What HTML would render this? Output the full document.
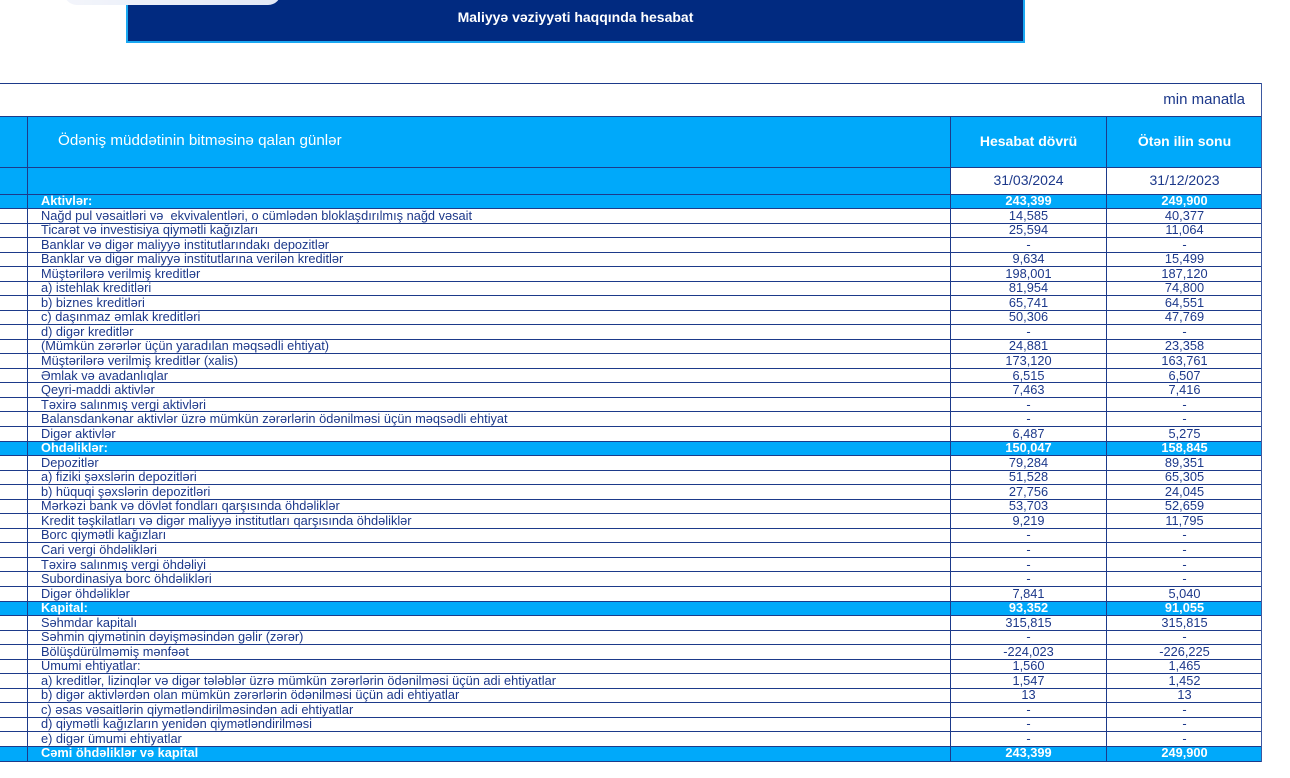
<!DOCTYPE html>
<html>
<head>
<meta charset="utf-8">
<style>
html,body{margin:0;padding:0;background:#fff;}
body{width:1290px;height:778px;position:relative;overflow:hidden;font-family:"Liberation Sans",sans-serif;color:#1c388a;}
.abs{position:absolute;}
.bar{left:126px;top:-2px;width:895px;height:43px;background:#012a80;border:2px solid #1aa8f2;border-top:none;}
.bar span{position:absolute;left:0;right:0;top:11px;text-align:center;color:#fff;font-size:14px;font-weight:bold;}
.pill{left:64px;top:-24px;width:217px;height:29px;border-radius:13px;background:linear-gradient(90deg,#f3f5fb,#e1e8f6);}
.hl{position:absolute;height:1px;background:#1d3a8a;left:0;width:1262px;}
.vl{position:absolute;width:1px;background:#1d3a8a;}
.row{position:absolute;left:0;width:1262px;height:15px;font-size:12.8px;line-height:15px;}
.row .l{position:absolute;left:41px;top:-1px;white-space:pre;}
.row .a{position:absolute;left:951px;width:155px;top:-1px;text-align:center;}
.row .b{position:absolute;left:1107px;width:155px;top:-1px;text-align:center;}
.sec{background:#00a9fa;color:#fff;font-weight:bold;}
</style>
</head>
<body>
<div class="abs bar"><span>Maliyyə vəziyyəti haqqında hesabat</span></div>
<div class="abs pill"></div>

<!-- table top -->
<div class="hl" style="top:83px;"></div>
<div class="abs" style="left:1100px;top:91px;font-size:15px;width:145px;text-align:right;color:#1c388a;">min manatla</div>

<!-- header blue -->
<div class="abs" style="left:0;top:116px;width:1262px;height:78px;background:#00a9fa;"></div>
<div class="abs" style="left:951px;top:168px;width:155px;height:26px;background:#fff;"></div>
<div class="abs" style="left:1107px;top:168px;width:155px;height:26px;background:#fff;"></div>
<div class="abs" style="left:58px;top:132px;font-size:15.2px;color:#fff;">Ödəniş müddətinin bitməsinə qalan günlər</div>
<div class="abs" style="left:951px;top:133px;width:155px;text-align:center;font-size:14px;color:#fff;font-weight:bold;">Hesabat dövrü</div>
<div class="abs" style="left:1107px;top:133px;width:155px;text-align:center;font-size:14px;color:#fff;font-weight:bold;">Ötən ilin sonu</div>
<div class="abs" style="left:951px;top:172px;width:155px;text-align:center;font-size:14px;color:#1c388a;">31/03/2024</div>
<div class="abs" style="left:1107px;top:172px;width:155px;text-align:center;font-size:14px;color:#1c388a;">31/12/2023</div>
<div class="hl" style="top:116px;"></div>
<div class="hl" style="top:167px;"></div>

<!-- rows -->
<div class="row sec" style="top:194px;"><span class="l">Aktivlər:</span><span class="a">243,399</span><span class="b">249,900</span></div>
<div class="row" style="top:208.5px;"><span class="l">Nağd pul vəsaitləri və  ekvivalentləri, o cümlədən bloklaşdırılmış nağd vəsait</span><span class="a">14,585</span><span class="b">40,377</span></div>
<div class="row" style="top:223.1px;"><span class="l">Ticarət və investisiya qiymətli kağızları</span><span class="a">25,594</span><span class="b">11,064</span></div>
<div class="row" style="top:237.6px;"><span class="l">Banklar və digər maliyyə institutlarındakı depozitlər</span><span class="a">-</span><span class="b">-</span></div>
<div class="row" style="top:252.2px;"><span class="l">Banklar və digər maliyyə institutlarına verilən kreditlər</span><span class="a">9,634</span><span class="b">15,499</span></div>
<div class="row" style="top:266.7px;"><span class="l">Müştərilərə verilmiş kreditlər</span><span class="a">198,001</span><span class="b">187,120</span></div>
<div class="row" style="top:281.2px;"><span class="l">a) istehlak kreditləri</span><span class="a">81,954</span><span class="b">74,800</span></div>
<div class="row" style="top:295.8px;"><span class="l">b) biznes kreditləri</span><span class="a">65,741</span><span class="b">64,551</span></div>
<div class="row" style="top:310.3px;"><span class="l">c) daşınmaz əmlak kreditləri</span><span class="a">50,306</span><span class="b">47,769</span></div>
<div class="row" style="top:324.8px;"><span class="l">d) digər kreditlər</span><span class="a">-</span><span class="b">-</span></div>
<div class="row" style="top:339.4px;"><span class="l">(Mümkün zərərlər üçün yaradılan məqsədli ehtiyat)</span><span class="a">24,881</span><span class="b">23,358</span></div>
<div class="row" style="top:353.9px;"><span class="l">Müştərilərə verilmiş kreditlər (xalis)</span><span class="a">173,120</span><span class="b">163,761</span></div>
<div class="row" style="top:368.5px;"><span class="l">Əmlak və avadanlıqlar</span><span class="a">6,515</span><span class="b">6,507</span></div>
<div class="row" style="top:383.0px;"><span class="l">Qeyri-maddi aktivlər</span><span class="a">7,463</span><span class="b">7,416</span></div>
<div class="row" style="top:397.5px;"><span class="l">Təxirə salınmış vergi aktivləri</span><span class="a">-</span><span class="b">-</span></div>
<div class="row" style="top:412.1px;"><span class="l">Balansdankənar aktivlər üzrə mümkün zərərlərin ödənilməsi üçün məqsədli ehtiyat</span><span class="a">-</span><span class="b">-</span></div>
<div class="row" style="top:426.6px;"><span class="l">Digər aktivlər</span><span class="a">6,487</span><span class="b">5,275</span></div>
<div class="row sec" style="top:441.1px;"><span class="l">Öhdəliklər:</span><span class="a">150,047</span><span class="b">158,845</span></div>
<div class="row" style="top:455.7px;"><span class="l">Depozitlər</span><span class="a">79,284</span><span class="b">89,351</span></div>
<div class="row" style="top:470.2px;"><span class="l">a) fiziki şəxslərin depozitləri</span><span class="a">51,528</span><span class="b">65,305</span></div>
<div class="row" style="top:484.8px;"><span class="l">b) hüquqi şəxslərin depozitləri</span><span class="a">27,756</span><span class="b">24,045</span></div>
<div class="row" style="top:499.3px;"><span class="l">Mərkəzi bank və dövlət fondları qarşısında öhdəliklər</span><span class="a">53,703</span><span class="b">52,659</span></div>
<div class="row" style="top:513.8px;"><span class="l">Kredit təşkilatları və digər maliyyə institutları qarşısında öhdəliklər</span><span class="a">9,219</span><span class="b">11,795</span></div>
<div class="row" style="top:528.4px;"><span class="l">Borc qiymətli kağızları</span><span class="a">-</span><span class="b">-</span></div>
<div class="row" style="top:542.9px;"><span class="l">Cari vergi öhdəlikləri</span><span class="a">-</span><span class="b">-</span></div>
<div class="row" style="top:557.5px;"><span class="l">Təxirə salınmış vergi öhdəliyi</span><span class="a">-</span><span class="b">-</span></div>
<div class="row" style="top:572.0px;"><span class="l">Subordinasiya borc öhdəlikləri</span><span class="a">-</span><span class="b">-</span></div>
<div class="row" style="top:586.5px;"><span class="l">Digər öhdəliklər</span><span class="a">7,841</span><span class="b">5,040</span></div>
<div class="row sec" style="top:601.1px;"><span class="l">Kapital:</span><span class="a">93,352</span><span class="b">91,055</span></div>
<div class="row" style="top:615.6px;"><span class="l">Səhmdar kapitalı</span><span class="a">315,815</span><span class="b">315,815</span></div>
<div class="row" style="top:630.1px;"><span class="l">Səhmin qiymətinin dəyişməsindən gəlir (zərər)</span><span class="a">-</span><span class="b">-</span></div>
<div class="row" style="top:644.7px;"><span class="l">Bölüşdürülməmiş mənfəət</span><span class="a">-224,023</span><span class="b">-226,225</span></div>
<div class="row" style="top:659.2px;"><span class="l">Ümumi ehtiyatlar:</span><span class="a">1,560</span><span class="b">1,465</span></div>
<div class="row" style="top:673.8px;"><span class="l">a) kreditlər, lizinqlər və digər tələblər üzrə mümkün zərərlərin ödənilməsi üçün adi ehtiyatlar</span><span class="a">1,547</span><span class="b">1,452</span></div>
<div class="row" style="top:688.3px;"><span class="l">b) digər aktivlərdən olan mümkün zərərlərin ödənilməsi üçün adi ehtiyatlar</span><span class="a">13</span><span class="b">13</span></div>
<div class="row" style="top:702.8px;"><span class="l">c) əsas vəsaitlərin qiymətləndirilməsindən adi ehtiyatlar</span><span class="a">-</span><span class="b">-</span></div>
<div class="row" style="top:717.4px;"><span class="l">d) qiymətli kağızların yenidən qiymətləndirilməsi</span><span class="a">-</span><span class="b">-</span></div>
<div class="row" style="top:731.9px;"><span class="l">e) digər ümumi ehtiyatlar</span><span class="a">-</span><span class="b">-</span></div>
<div class="row sec" style="top:746.4px;"><span class="l">Cəmi öhdəliklər və kapital</span><span class="a">243,399</span><span class="b">249,900</span></div>

<!-- horizontal row lines -->
<div class="hl" style="top:194px;"></div>
<div class="hl" style="top:208px;"></div>
<div class="hl" style="top:223px;"></div>
<div class="hl" style="top:237px;"></div>
<div class="hl" style="top:252px;"></div>
<div class="hl" style="top:266px;"></div>
<div class="hl" style="top:281px;"></div>
<div class="hl" style="top:295px;"></div>
<div class="hl" style="top:310px;"></div>
<div class="hl" style="top:324px;"></div>
<div class="hl" style="top:339px;"></div>
<div class="hl" style="top:353px;"></div>
<div class="hl" style="top:368px;"></div>
<div class="hl" style="top:382px;"></div>
<div class="hl" style="top:397px;"></div>
<div class="hl" style="top:411px;"></div>
<div class="hl" style="top:426px;"></div>
<div class="hl" style="top:441px;"></div>
<div class="hl" style="top:455px;"></div>
<div class="hl" style="top:470px;"></div>
<div class="hl" style="top:484px;"></div>
<div class="hl" style="top:499px;"></div>
<div class="hl" style="top:513px;"></div>
<div class="hl" style="top:528px;"></div>
<div class="hl" style="top:542px;"></div>
<div class="hl" style="top:557px;"></div>
<div class="hl" style="top:571px;"></div>
<div class="hl" style="top:586px;"></div>
<div class="hl" style="top:601px;"></div>
<div class="hl" style="top:615px;"></div>
<div class="hl" style="top:630px;"></div>
<div class="hl" style="top:644px;"></div>
<div class="hl" style="top:659px;"></div>
<div class="hl" style="top:673px;"></div>
<div class="hl" style="top:688px;"></div>
<div class="hl" style="top:702px;"></div>
<div class="hl" style="top:717px;"></div>
<div class="hl" style="top:731px;"></div>
<div class="hl" style="top:746px;"></div>
<div class="hl" style="top:761px;"></div>

<!-- vertical lines -->
<div class="vl" style="left:27px;top:116px;height:646px;"></div>
<div class="vl" style="left:950px;top:116px;height:646px;"></div>
<div class="vl" style="left:1106px;top:116px;height:646px;"></div>
<div class="vl" style="left:1261px;top:83px;height:679px;background:#3d58a0;"></div>
</body>
</html>
